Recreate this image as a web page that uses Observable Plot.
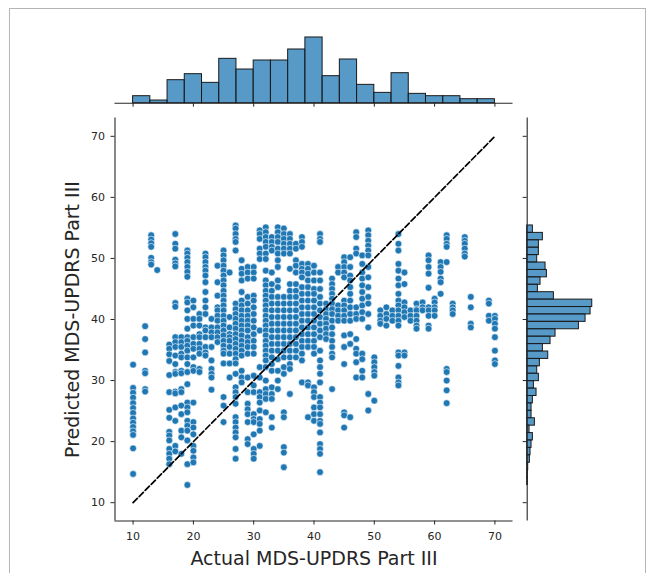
<!DOCTYPE html>
<html><head><meta charset="utf-8">
<script src="https://cdn.jsdelivr.net/npm/d3@7"></script>
<script src="https://cdn.jsdelivr.net/npm/@observablehq/plot@0.6"></script>
<style>
body{margin:0;background:#fff;}
#wrap{position:relative;width:652px;height:573px;overflow:hidden;font-family:"DejaVu Sans",sans-serif;}
#wrap svg{position:absolute;left:0;top:0;}
#frame{position:absolute;left:9px;top:8px;width:637px;height:620px;border:1px solid #b5b5b5;box-sizing:border-box;}
</style></head><body><div id="wrap"><div id="frame"></div></div>
<script>
// ---- data ----
const xLabel = "Actual MDS-UPDRS Part III";
const yLabel = "Predicted MDS-UPDRS Part III";
const xTicks = [10, 20, 30, 40, 50, 60, 70];
const yTicks = [10, 20, 30, 40, 50, 60, 70];
const diagonal = [10, 70];

const actualScores = [10,12,13,14,16,17,18,19,20,21,22,23,24,25,26,27,28,29,30,31,32,33,34,35,36,37,38,39,40,41,42,43,44,45,46,47,48,49,50,51,52,53,54,55,56,57,58,59,60,61,62,63,65,66,69,70];
const predictedScores = [
  [32.6,28.8,28.0,27.2,26.3,25.5,24.7,23.8,23.1,22.4,21.7,21.1,18.9,14.7],
  [38.9,36.8,34.6,31.6,31.2,28.6,28.2],
  [53.8,53.1,52.5,51.9,50.1,49.4,49.0],
  [48.1],
  [35.9,35.2,34.3,33.2,30.9,28.1,25.2,23.9,21.6,21.0,20.2,18.8,18.0,17.2,16.3],
  [54.0,52.4,51.6,49.8,49.2,48.7,42.7,42.1,37.1,36.3,35.5,34.1,32.7,31.4,31.1,28.2,27.9,25.6,23.4,19.3,18.4],
  [37.1,36.3,35.5,34.4,33.8,31.6,31.2,28.6,28.1,25.9,24.5,21.8,20.7,18.0],
  [51.3,50.8,50.1,49.4,48.6,47.8,47.0,43.4,42.8,41.5,40.1,38.5,37.1,36.5,35.7,34.9,33.8,32.7,31.4,29.4,26.4,25.6,24.8,23.4,22.6,21.8,20.2,16.3,12.9],
  [43.1,42.0,40.1,39.0,37.1,36.0,35.2,33.8,32.2,31.6,26.4,23.2,22.3,21.2,19.3,18.5,17.4,16.6],
  [40.9,40.1,39.0,37.6,37.1,36.0,35.2,34.4,31.9,31.4],
  [50.8,50.2,49.4,48.6,48.0,47.2,46.1,44.5,43.1,42.0,40.9,38.7,38.2,37.1,35.5,34.6,34.1],
  [40.1,38.7,37.9,37.1,35.5,33.3,31.9,31.1,30.5,28.5],
  [48.8,46.1,43.9,42.0,41.5,40.6,39.8,38.7,37.9,37.1,36.3],
  [51.3,50.5,49.7,48.8,48.0,47.2,46.4,45.6,44.7,43.9,43.1,42.3,41.5,40.6,39.8,39.0,38.2,37.4,36.5,35.7,34.9,34.4,32.8,27.3,25.9,23.2],
  [47.7,40.4,38.7,37.6,37.1,36.5,35.5,34.4,32.8,30.5],
  [55.4,54.9,54.0,53.2,52.7,51.3,42.6,41.7,40.9,40.1,39.3,38.5,37.6,36.8,36.0,35.2,34.4,33.5,32.8,31.1,28.9,28.1,27.3,26.2,24.0,23.2,22.3,21.5,20.7,18.8,17.2],
  [49.7,48.3,47.5,46.4,44.5,43.1,42.3,41.5,40.6,39.8,39.0,38.2,37.4,36.5,35.7,34.9,34.1,31.6,30.5,29.7],
  [48.6,47.7,46.7,43.7,42.6,41.5,40.6,39.8,39.0,38.2,37.1,36.3,35.5,34.4,30.5,28.1,26.2,25.3,24.5,23.2,20.4,19.6],
  [48.6,47.7,46.7,43.9,43.1,42.0,40.9,39.8,38.7,37.6,36.5,35.5,34.4,30.8,29.2,28.1,24.5,23.7,23.2,21.2,18.8,18.0,17.2],
  [54.6,54.0,53.2,51.6,50.8,49.9,38.2,32.2,30.5,28.1,27.3,26.4,25.1,23.7,22.9,21.8,19.3],
  [55.1,54.3,53.5,52.7,51.9,50.8,49.9,48.0,46.4,45.6,44.7,43.9,43.1,42.3,41.5,40.6,39.8,39.0,38.2,37.4,36.5,35.7,34.9,34.1,33.3,32.2,30.0,28.6,27.8,27.0,24.8],
  [53.5,52.7,51.9,51.3,47.7,45.8,44.7,43.7,42.6,41.5,40.4,39.3,38.2,37.1,36.0,34.9,33.8,32.7,31.6,28.9,27.8,27.0,24.0,22.3],
  [55.1,54.3,53.5,52.7,51.6,50.8,49.7,48.6,46.4,45.3,43.7,42.6,41.5,40.4,39.3,38.2,37.1,36.0,34.9,33.5,31.6,30.0,28.6],
  [54.9,54.0,53.2,52.4,51.6,50.8,43.7,42.6,41.5,40.4,39.3,38.2,37.1,36.0,34.9,33.8,32.2,31.1,24.8,24.0,19.1,18.2,15.8],
  [54.0,53.2,52.4,51.6,50.8,48.3,45.8,44.7,43.7,42.6,41.5,40.4,39.3,38.2,37.1,36.0,34.9,33.8,32.7,31.9,27.8],
  [52.4,51.6,49.7,48.8,47.7,45.8,44.7,43.7,42.6,41.5,40.4,39.3,38.2,37.1,36.0,34.9,33.8],
  [53.5,52.7,51.9,49.1,48.3,47.7,46.9,45.3,44.2,43.1,42.0,40.9,39.8,38.7,37.6,36.5,35.5,34.4,33.3,29.7],
  [49.1,48.3,47.5,46.4,45.3,44.2,43.1,42.0,40.9,39.8,38.7,37.6,36.5,35.5,29.7,29.2,24.0],
  [48.8,47.7,46.4,45.0,44.2,43.1,42.0,40.9,39.8,38.7,37.6,36.5,35.5,34.4,28.9,28.1,27.3,25.6,24.5,23.4],
  [54.0,53.2,52.7,47.7,46.4,45.0,43.7,42.6,41.5,40.4,39.3,38.2,37.1,34.9,33.3,32.2,31.1,29.7,27.3,26.4,25.6,24.5,23.4,22.9,21.5,19.6,18.8,18.0,15.0],
  [42.6,41.7,40.9,40.1,39.3,38.5,37.6,36.8],
  [46.7,45.8,45.0,44.2,43.4,42.6,41.7,40.9,39.8,38.7,37.6,36.5,35.5,34.4,33.8,28.6],
  [48.6,47.7,42.3,41.5,40.6,39.8],
  [50.2,49.4,48.6,47.7,46.9,43.1,42.3,41.5,40.6,39.8,37.4,35.5,32.7,24.8,24.3,22.3],
  [50.2,48.6,47.2,46.4,45.3,44.2,43.1,42.0,40.9,39.8,37.6,36.0,24.0],
  [54.3,53.5,51.6,50.8,42.0,40.9,40.1,36.8,35.2,34.4,33.0,30.5],
  [50.5,49.1,47.7,46.7,45.6,44.5,43.4,42.3,41.2,40.1,34.4,33.5,31.6,30.5],
  [54.6,53.8,52.9,52.1,51.3,50.5,48.6,46.9,45.3,43.7,42.6,40.9,38.7,27.8,25.1],
  [33.8,33.0,32.2,31.4,30.8,26.7],
  [41.5,40.6,39.8,39.3],
  [42.0,40.9,40.1,39.0],
  [41.5,40.6,39.8],
  [54.0,52.4,51.3,49.1,48.0,46.7,45.6,44.2,43.1,42.3,41.5,40.6,39.8,39.0,34.6,34.1,32.4,30.5,29.7,29.2],
  [47.7,45.8,42.8,42.0,41.2,40.4,34.6,34.1],
  [41.5,40.6,39.8],
  [42.6,41.7,41.5,40.6,39.8,39.0,38.5],
  [42.8,42.0,41.5],
  [50.5,49.7,48.6,47.5,45.2,42.0,41.5,40.6,39.0,38.5],
  [43.4,42.8,42.0,41.5,40.6],
  [49.4,48.6,47.8,46.7,46.1,44.2],
  [53.8,53.2,52.4,51.9,49.4,31.9,31.4,30.0,28.4,26.3],
  [42.6,42.0,41.5,40.9],
  [53.5,52.9,52.4,51.6,50.8,50.3],
  [43.7,42.0,39.3,38.7],
  [43.1,42.6,40.6,39.8],
  [40.6,40.1,39.3,38.5,37.1,34.9,33.3,32.7]
];

// marginal histogram counts
const actualBinStart = 10, actualBinEnd = 70;
const actualCounts = [21,8,69,87,61,133,101,128,128,161,197,81,131,55,31,90,28,21,21,12,12];
const predBinStart = 12.9, predBinEnd = 55.4;
const predCountsTopDown = [17,47,35,35,30,55,59,40,32,80,195,190,175,155,85,70,47,63,38,30,35,20,28,17,13,13,23,7,17,13,10,8,3,2,2];

// ---- build tables ----
const points = actualScores.flatMap((a, i) => predictedScores[i].map(p => ({actual: a, predicted: p})));
const aw = (actualBinEnd - actualBinStart) / actualCounts.length;
const topBins = actualCounts.map((c, i) => ({x1: actualBinStart + i*aw, x2: actualBinStart + (i+1)*aw, count: c}));
const pw = (predBinEnd - predBinStart) / predCountsTopDown.length;
const rightBins = predCountsTopDown.map((c, i) => ({y2: predBinEnd - i*pw, y1: predBinEnd - (i+1)*pw, count: c}));

// ---- layout ----
const W = 652, H = 573;
const L = 114.5, R = 512.5, T = 117.5, B = 520.5;
const topHistTop = 33.7, topHistBase = 102.7;
const rightHistBase = 526.7, rightHistEnd = 595;
const ink = "#262626";
const histFill = "rgba(31,119,180,0.75)";
const font = "DejaVu Sans";
const wrap = document.getElementById("wrap");

const main = Plot.plot({
  width: W, height: H,
  marginLeft: L, marginRight: W - R, marginTop: T, marginBottom: H - B,
  style: {background: "transparent", fontFamily: font, color: ink},
  x: {domain: [7, 73]},
  y: {domain: [7, 73]},
  marks: [
    Plot.axisX({ticks: xTicks, tickSize: 4, tickPadding: 7, fontSize: 11, label: null, stroke: ink, strokeWidth: 1}),
    Plot.axisY({ticks: yTicks, tickSize: 4, tickPadding: 6, fontSize: 11, label: null, stroke: ink, strokeWidth: 1}),
    Plot.ruleX([7], {stroke: ink, strokeWidth: 1.1}),
    Plot.ruleY([7], {stroke: ink, strokeWidth: 1.1}),
    Plot.dot(points, {x: "actual", y: "predicted", r: 3.4, fill: "#1f77b4", stroke: "white", strokeWidth: 0.6}),
    Plot.line(diagonal, {x: d => d, y: d => d, stroke: "black", strokeWidth: 1.7, strokeDasharray: "6,2.6"}),
    Plot.text([xLabel], {frameAnchor: "bottom", dy: 43.5, lineAnchor: "bottom", textAnchor: "middle", fontSize: 19, fill: ink}),
    Plot.text([yLabel], {frameAnchor: "left", dx: -36.5, rotate: -90, lineAnchor: "bottom", textAnchor: "middle", fontSize: 19, fill: ink})
  ]
});

const topHist = Plot.plot({
  width: W, height: H,
  marginLeft: L, marginRight: W - R, marginTop: topHistTop, marginBottom: H - topHistBase,
  style: {background: "transparent", fontFamily: font, color: ink},
  x: {domain: [7, 73]},
  y: {domain: [0, 197 * 1.05], axis: null},
  marks: [
    Plot.rectY(topBins, {x1: "x1", x2: "x2", y: "count", fill: histFill, stroke: "#1a1a1a", strokeWidth: 1}),
    Plot.ruleY([0], {stroke: ink, strokeWidth: 1.1}),
    Plot.axisX({ticks: xTicks, tickSize: 4, tickFormat: () => "", label: null, stroke: ink})
  ]
});

const rightHist = Plot.plot({
  width: W, height: H,
  marginLeft: rightHistBase, marginRight: W - rightHistEnd, marginTop: T, marginBottom: H - B,
  style: {background: "transparent", fontFamily: font, color: ink},
  x: {domain: [0, 195 * 1.05], axis: null},
  y: {domain: [7, 73]},
  marks: [
    Plot.rectX(rightBins, {y1: "y1", y2: "y2", x: "count", fill: histFill, stroke: "#1a1a1a", strokeWidth: 1}),
    Plot.ruleX([0], {stroke: ink, strokeWidth: 1.1}),
    Plot.axisY({ticks: yTicks, tickSize: 4, tickFormat: () => "", label: null, stroke: ink})
  ]
});

wrap.appendChild(topHist);
wrap.appendChild(rightHist);
wrap.appendChild(main);
</script>
</body></html>
